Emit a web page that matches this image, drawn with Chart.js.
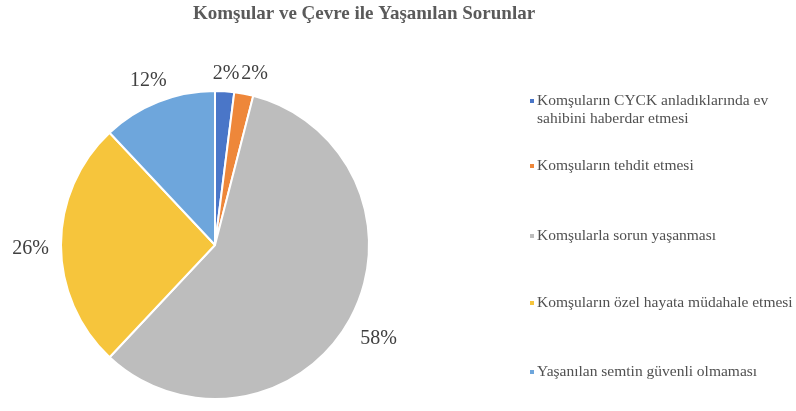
<!DOCTYPE html>
<html>
<head>
<meta charset="utf-8">
<script src="https://cdn.jsdelivr.net/npm/chart.js@4"></script>
<style>
  html, body { margin: 0; padding: 0; background: #fff; }
  #wrap { position: relative; width: 796px; height: 411px; }
</style>
</head>
<body>
<div id="wrap"><canvas id="pie-chart" width="796" height="411"></canvas></div>
<script>
const chartTitle = 'Komşular ve Çevre ile Yaşanılan Sorunlar';
const categories = [
    ['Komşuların CYCK anladıklarında ev', 'sahibini haberdar etmesi'],
    'Komşuların tehdit etmesi',
    'Komşularla sorun yaşanması',
    'Komşuların özel hayata müdahale etmesi',
    'Yaşanılan semtin güvenli olmaması'
];
const percentages = [2, 2, 58, 26, 12];
const sliceColors = ['#4a76c8', '#ee873a', '#bdbdbd', '#f6c53c', '#6ea6dc'];

const TEXT = '#505050';
const SERIF = '"Liberation Serif", "DejaVu Serif", serif';

// title, outside labels and the legend are drawn by hand to match the original layout
const decorations = {
    id: 'decorations',
    afterDraw(chart) {
        const ctx = chart.ctx;
        ctx.save();

        // title
        ctx.fillStyle = '#5a5a5a';
        ctx.font = 'bold 19px ' + SERIF;
        ctx.textAlign = 'center';
        ctx.textBaseline = 'middle';
        ctx.fillText(chartTitle, 364, 14);

        // outside-end percentage labels
        const arcs = chart.getDatasetMeta(0).data;
        ctx.font = '20px ' + SERIF;
        ctx.fillStyle = '#404040';
        let prev = null;
        arcs.forEach((arc, i) => {
            const p = arc.getProps(['x', 'y', 'startAngle', 'endAngle', 'outerRadius'], true);
            const mid = (p.startAngle + p.endAngle) / 2;
            const dx = Math.cos(mid), dy = Math.sin(mid);
            const txt = percentages[i] + '%';
            const w = ctx.measureText(txt).width;
            const hw = w / 2 + 1, hh = 10;
            const ext = hw * Math.abs(dx) + hh * Math.abs(dy);
            let cx = p.x + dx * (p.outerRadius + 11 + ext);
            let cy = p.y + dy * (p.outerRadius + 11 + ext) + 4;
            if (prev && Math.abs(cy - prev.cy) < 2 * hh && cx - prev.cx < prev.hw + hw) {
                cx = prev.cx + prev.hw + hw;
                cy = prev.cy;
            }
            ctx.fillText(txt, cx, cy);
            prev = { cx, cy, hw };
        });

        // legend
        const rows = [101, 166, 236, 303, 372];
        ctx.font = '15.5px ' + SERIF;
        ctx.textAlign = 'left';
        categories.forEach((label, i) => {
            const lines = Array.isArray(label) ? label : [label];
            ctx.fillStyle = sliceColors[i];
            ctx.fillRect(530, rows[i] - 2, 4, 4);
            ctx.fillStyle = TEXT;
            lines.forEach((line, j) => ctx.fillText(line, 537, rows[i] + j * 18));
        });

        ctx.restore();
    }
};

new Chart(document.getElementById('pie-chart'), {
    type: 'pie',
    data: {
        labels: categories.map(l => Array.isArray(l) ? l.join(' ') : l),
        datasets: [{
            data: percentages,
            backgroundColor: sliceColors,
            borderColor: '#ffffff',
            borderWidth: 2
        }]
    },
    options: {
        responsive: false,
        animation: false,
        layout: { padding: { left: 60, right: 426, top: 90, bottom: 11 } },
        plugins: {
            legend: { display: false },
            title: { display: false },
            tooltip: { enabled: false }
        }
    },
    plugins: [decorations]
});
</script>
</body>
</html>
